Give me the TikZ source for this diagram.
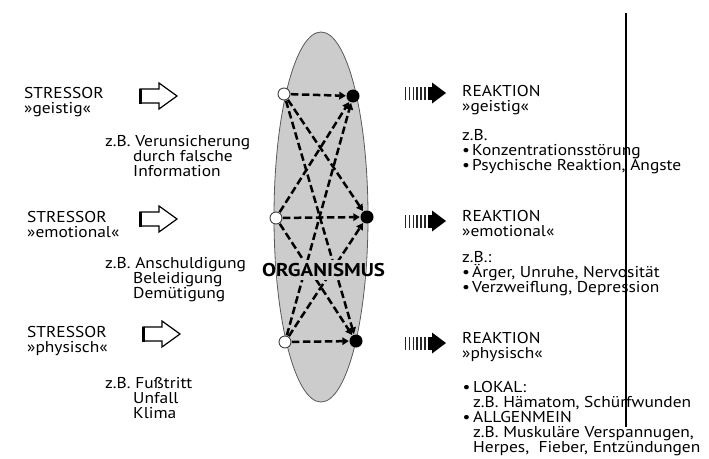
\documentclass[tikz,border=0pt]{standalone}
\usepackage{fontspec}
\setmainfont{PT Sans}[FakeStretch=1.11]
\newfontfamily\orgfont{PT Sans}
\usetikzlibrary{arrows.meta}
\begin{document}
\begin{tikzpicture}[x=1pt,y=-1pt,
  txt/.style={anchor=base west,inner sep=0pt,font=\fontsize{15.7}{15}\selectfont},
  bul/.style={anchor=base west,inner sep=0pt,font=\fontsize{15.7}{15}\selectfont},
  orgtxt/.style={anchor=base,inner sep=0pt,font=\orgfont\fontsize{18.5}{18}\selectfont\bfseries},
  opencirc/.style={circle,draw=black!75,fill=white,line width=0.9pt,minimum size=12pt,inner sep=0pt},
  fullcirc/.style={circle,fill=black,minimum size=13pt,inner sep=0pt},
  dlink/.style={draw=black,line width=2.5pt,dash pattern=on 7.5pt off 3.5pt,
    -{Triangle[length=6.5pt,width=7.5pt]},shorten >=0.5pt,shorten <=0.5pt},
  organism/.style={draw=black!65,fill=black!20,line width=0.8pt},
  hollowarrow/.style={draw=black,fill=white,line width=1.2pt,line join=miter},
  divider/.style={draw=black,line width=1.6pt}
]
\useasboundingbox (0,0) rectangle (709,458);

% organism
\draw[organism] (321,217) ellipse [x radius=47, y radius=185];

% stressor / reaction nodes
\node[opencirc] (L1) at (284,94) {};
\node[opencirc] (L2) at (276,218) {};
\node[opencirc] (L3) at (285,342) {};
\node[fullcirc] (R1) at (353,96) {};
\node[fullcirc] (R2) at (367,217) {};
\node[fullcirc] (R3) at (356,341) {};

\foreach \a in {L1,L2,L3}{
  \foreach \b in {R1,R2,R3}{
    \draw[dlink] (\a) -- (\b);
  }
}

% gap behind the label, inside the organism only
\begin{scope}
  \clip (321,217) ellipse [x radius=46.6, y radius=184.6];
  \fill[black!20] (262,260) rectangle (386,280);
\end{scope}
\node[orgtxt] (org) at (323.5,276) {\scalebox{1.13}[1]{ORGANISMUS}};

% hollow stressor arrows
\foreach \cx/\cy in {140/96,140/219,143/334}{
  \draw[hollowarrow] (\cx,\cy-7) -- (\cx+19,\cy-7) -- (\cx+19,\cy-13) -- (\cx+37,\cy)
     -- (\cx+19,\cy+13) -- (\cx+19,\cy+7) -- (\cx,\cy+7) -- cycle;
  \draw[draw=black,line width=3pt] (\cx+0.5,\cy-7.5) -- (\cx+0.5,\cy+7.5);
}

% striped reaction arrows
\foreach \cy in {93,221,343}{
  \foreach \i/\w in {0/1.2,1/1.4,2/1.6,3/1.8,4/2.1,5/2.4}{
    \fill[black!85] (405+\i*3.8,\cy-6.5) rectangle ++(\w,13);
  }
  \fill[black] (428,\cy-6.5) rectangle (433,\cy+6.5);
  \fill[black] (432,\cy-10.5) -- (446,\cy) -- (432,\cy+10.5) -- cycle;
}

% divider
\draw[divider] (626,13) -- (626,427);

% left texts
\node[txt] (s1a) at (24,98) {STRESSOR};
\node[txt] (s1b) at (24,113) {»geistig«};
\node[txt] (e1a) at (105,146) {z.B. Verunsicherung};
\node[txt] (e1b) at (133,161) {durch falsche};
\node[txt] (e1c) at (133,176) {Information};

\node[txt] (s2a) at (27,222) {STRESSOR};
\node[txt] (s2b) at (27,237) {»emotional«};
\node[txt] (e2a) at (105,268) {z.B. Anschuldigung};
\node[txt] (e2b) at (133,283) {Beleidigung};
\node[txt] (e2c) at (133,298) {Demütigung};

\node[txt] (s3a) at (27,337) {STRESSOR};
\node[txt] (s3b) at (27,352) {»physisch«};
\node[txt] (e3a) at (105,388) {z.B. Fußtritt};
\node[txt] (e3b) at (133,403) {Unfall};
\node[txt] (e3c) at (133,418) {Klima};

% right texts
\node[txt] (r1a) at (462,96) {REAKTION};
\node[txt] (r1b) at (462,111) {»geistig«};
\node[txt] (r1c) at (462,140) {z.B.};
\node[bul] (r1d) at (462,155) {•};
\node[txt] (r1e) at (472,155) {Konzentrationsstörung};
\node[bul] (r1f) at (462,170) {•};
\node[txt] (r1g) at (472,170) {Psychische Reaktion, Ängste};

\node[txt] (r2a) at (462,221) {REAKTION};
\node[txt] (r2b) at (462,236) {»emotional«};
\node[txt] (r2c) at (462,262) {z.B.:};
\node[bul] (r2d) at (462,277) {•};
\node[txt] (r2e) at (472,277) {Ärger, Unruhe, Nervosität};
\node[bul] (r2f) at (462,292) {•};
\node[txt] (r2g) at (472,292) {Verzweiflung, Depression};

\node[txt] (r3a) at (462,343) {REAKTION};
\node[txt] (r3b) at (462,358) {»physisch«};
\node[bul] (r3c) at (462.5,392) {•};
\node[txt] (r3d) at (473,392) {LOKAL:};
\node[txt] (r3e) at (473,407) {z.B. Hämatom, Schürfwunden};
\node[bul] (r3f) at (462.5,422) {•};
\node[txt] (r3g) at (473,422) {ALLGENMEIN};
\node[txt] (r3h) at (473,437) {z.B. Muskuläre Verspannugen,};
\node[txt] (r3i) at (473,452) {Herpes,\ \ Fieber, Entzündungen};
\end{tikzpicture}
\end{document}
